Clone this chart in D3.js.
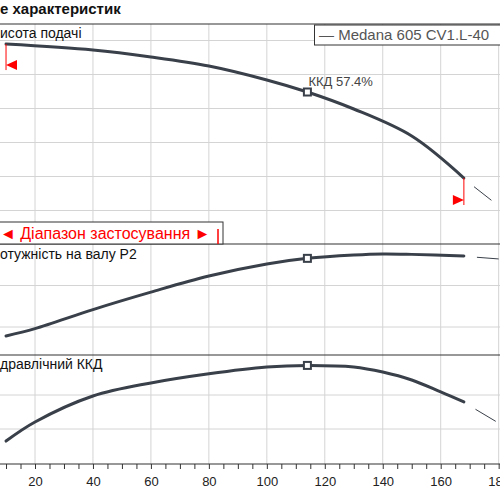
<!DOCTYPE html>
<html>
<head>
<meta charset="UTF-8" />
<script src="https://d3js.org/d3.v7.min.js"></script>
<style>
  body { margin: 0; background: #fff; }
  text { font-family: "Liberation Sans", Arial, sans-serif; }
  .grid { stroke: #d4d4d4; stroke-width: 1; }
  .frame { stroke: #333; stroke-width: 1.2; }
  .curve { fill: none; stroke: #3a4049; stroke-width: 3; stroke-linecap: round; }
  .ext { stroke: #3a4049; stroke-width: 1; }
</style>
</head>
<body>
<script>
var width = 500, height = 500;

// flow Q values shared by the curves
var qH = [10, 40, 60, 80, 100, 114, 130, 150, 168];
var head = [11.79, 11.44, 11.03, 10.5, 9.68, 8.97, 7.97, 6.38, 3.91];
var qP = [10, 20, 40, 60, 80, 100, 114, 130, 140, 150, 168];
var power = [0.392, 0.48, 0.71, 0.92, 1.114, 1.259, 1.327, 1.367, 1.38, 1.375, 1.355];
var qE = [10, 20, 40, 60, 80, 100, 114, 130, 140, 150, 160, 168];
var eff = [12.9, 24.1, 39.4, 47.1, 52.5, 56.5, 57.4, 56.5, 53.5, 48.8, 41.8, 35.9];
var xTicks = [20, 40, 60, 80, 100, 120, 140, 160, 180];
var dutyQ = 114, dutyEff = "57.4%";
var rangeQ = [10, 168];
var headGrid = [12, 10, 8, 6, 4, 2];
var powerGrid = [1.0, 0.5];
var effGrid = [40, 20];

var svg = d3.select("body").append("svg").attr("width", width).attr("height", height);

var x = d3.scaleLinear().domain([20, 160]).range([35, 440.7]);
var yH = d3.scaleLinear().domain([12, 2]).range([40.5, 210.5]);
var yP = d3.scaleLinear().domain([1.0, 0.5]).range([285.5, 327]);
var yE = d3.scaleLinear().domain([40, 20]).range([395, 429]);

// vertical grid
svg.selectAll(".vg").data(xTicks).enter().append("line").attr("class", "grid")
  .attr("x1", d => x(d)).attr("x2", d => x(d)).attr("y1", 24).attr("y2", 464);

function hgrid(vals, sc) {
  svg.selectAll(null).data(vals).enter().append("line").attr("class", "grid")
    .attr("x1", 0).attr("x2", width).attr("y1", d => sc(d)).attr("y2", d => sc(d));
}
hgrid(headGrid, yH); hgrid(powerGrid, yP); hgrid(effGrid, yE);

// panel borders
[24, 244, 355, 464].forEach(function(y) {
  svg.append("line").attr("class", "frame").attr("x1", 0).attr("x2", width).attr("y1", y).attr("y2", y);
});

// bottom axis
var ax = svg.append("g").attr("transform", "translate(0,464)")
  .call(d3.axisBottom(x).tickValues(d3.range(10, 181, 5)).tickSize(5).tickFormat(function(d) { return d % 20 === 0 ? d : ""; }));
ax.select(".domain").remove();
ax.selectAll("line").attr("stroke", "#333");
ax.selectAll("text").attr("font-size", 13).attr("fill", "#222").attr("dy", "1.1em");

var line = d3.line().curve(d3.curveCatmullRom.alpha(0.5));
function curve(qs, vs, sc) {
  svg.append("path").attr("class", "curve")
    .attr("d", line(qs.map((q, i) => [x(q), sc(vs[i])])));
}
curve(qH, head, yH); curve(qP, power, yP); curve(qE, eff, yE);

// short continuation strokes beyond range
svg.append("line").attr("class", "ext").attr("x1", x(171.5)).attr("y1", yH(3.4)).attr("x2", x(177.5)).attr("y2", yH(2.6));
svg.append("line").attr("class", "ext").attr("x1", x(172.5)).attr("y1", yP(1.34)).attr("x2", x(180)).attr("y2", yP(1.32));
svg.append("line").attr("class", "ext").attr("x1", x(172)).attr("y1", yE(31.6)).attr("x2", x(179)).attr("y2", yE(24.5));

// duty point markers
function marker(v, sc) {
  svg.append("rect").attr("x", x(dutyQ) - 3.5).attr("y", sc(v) - 3.5).attr("width", 7).attr("height", 7)
    .attr("fill", "#fff").attr("stroke", "#3a4049").attr("stroke-width", 2);
}
marker(head[qH.indexOf(dutyQ)], yH);
marker(power[qP.indexOf(dutyQ)], yP);
marker(eff[qE.indexOf(dutyQ)], yE);
svg.append("text").attr("x", x(dutyQ) + 1).attr("y", yH(head[qH.indexOf(dutyQ)]) - 6)
  .attr("font-size", 13).attr("fill", "#444").text("ККД  " + dutyEff);

// red range markers
var x0 = x(rangeQ[0]), x1 = x(rangeQ[1]);
var y0 = yH(head[0]), y1 = yH(head[head.length - 1]);
svg.append("line").attr("x1", x0).attr("x2", x0).attr("y1", y0).attr("y2", y0 + 26).attr("stroke", "red");
svg.append("path").attr("fill", "red").attr("d", `M${x0},${y0 + 21}L${x0 + 11},${y0 + 16}L${x0 + 11},${y0 + 26}Z`);
svg.append("line").attr("x1", x1).attr("x2", x1).attr("y1", y1).attr("y2", y1 + 27).attr("stroke", "red");
svg.append("path").attr("fill", "red").attr("d", `M${x1},${y1 + 22}L${x1 - 11},${y1 + 17}L${x1 - 11},${y1 + 27}Z`);

// range box
svg.append("rect").attr("x", -2).attr("y", 222).attr("width", 225).attr("height", 22)
  .attr("fill", "#fff").attr("stroke", "#333");
svg.append("line").attr("x1", 218).attr("x2", 218).attr("y1", 229).attr("y2", 244).attr("stroke", "red").attr("stroke-width", 1.5);
svg.append("text").attr("x", 0).attr("y", 239).attr("font-size", 16).attr("fill", "red")
  .text("◄ Діапазон застосування ►");

// legend
svg.append("rect").attr("x", 314.5).attr("y", 25).attr("width", 190).attr("height", 20)
  .attr("fill", "#fff").attr("stroke", "#333");
svg.append("text").attr("x", 319).attr("y", 40).attr("font-size", 15).attr("fill", "#555")
  .text("— Medana 605 CV1.L-40");

// labels
svg.append("text").attr("x", 0).attr("y", 14).attr("font-size", 15).attr("font-weight", "bold").attr("fill", "#111").text("е характеристик");
svg.append("text").attr("x", 0).attr("y", 38).attr("font-size", 14).attr("fill", "#111").text("исота подачі");
svg.append("text").attr("x", 0).attr("y", 259).attr("font-size", 14).attr("fill", "#111").text("отужність на валу  P2");
svg.append("text").attr("x", 0).attr("y", 369).attr("font-size", 14).attr("fill", "#111").text("дравлічний ККД");
</script>
</body>
</html>
